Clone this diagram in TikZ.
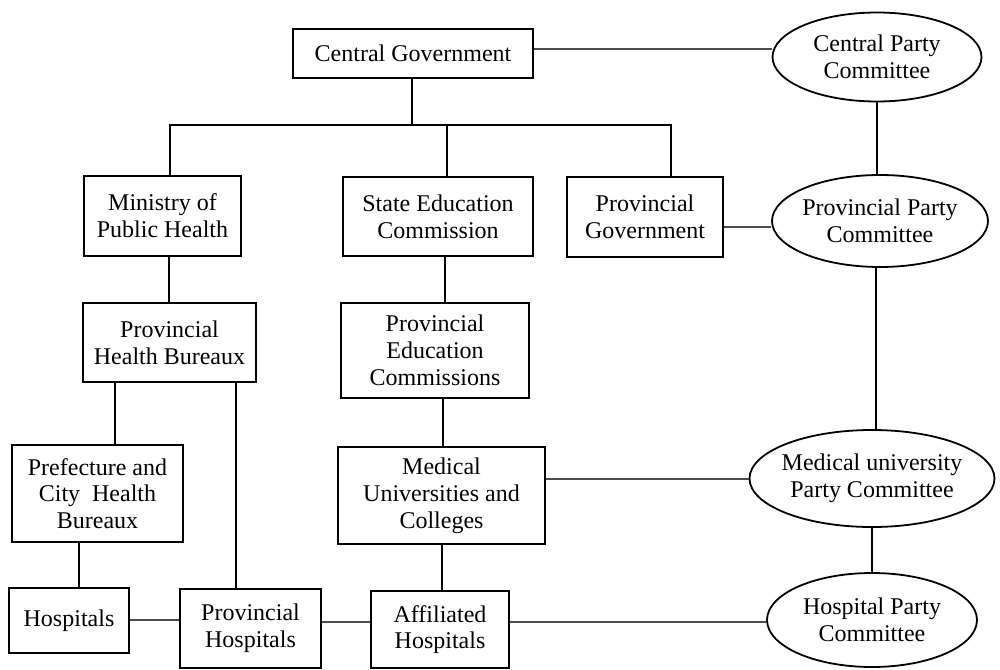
\documentclass[tikz,border=0pt]{standalone}
\usepackage{fontspec}
\setmainfont{Liberation Serif}
\usetikzlibrary{shapes.geometric}
\begin{document}
\begin{tikzpicture}[x=0.5pt,y=-0.5pt,
  every node/.style={font=\fontsize{12}{13.4}\selectfont, align=center, inner sep=0pt},
  box/.style={draw, line width=0.9pt, rectangle},
  party/.style={draw, line width=0.9pt, ellipse},
  ptext/.style={font=\fontsize{12}{13.4}\selectfont, align=center, inner sep=0pt},
  vline/.style={line width=0.8pt},
  hline/.style={line width=0.6pt, black!70}]
\useasboundingbox (0,0) rectangle (1000,669);
% boxes
\node[box, minimum width=120pt, minimum height=24.5pt] (cg) at (413,53.5) {Central Government};
\node[box, minimum width=78.5pt, minimum height=40pt] (mph) at (162.5,216) {Ministry of\\Public Health};
\node[box, minimum width=95pt, minimum height=39.5pt] (sec) at (438,216.5) {State Education\\Commission};
\node[box, minimum width=78pt, minimum height=40pt] (pg) at (645,217) {Provincial\\Government};
\node[box, minimum width=86.5pt, minimum height=39.5pt] (phb) at (169.5,342.5) {Provincial\\Health Bureaux};
\node[box, minimum width=94pt, minimum height=47.5pt] (pec) at (435,350.5) {Provincial\\Education\\Commissions};
\node[box, minimum width=85.5pt, minimum height=48.5pt] (pchb) at (97.5,493.5) {Prefecture and\\City\ \ Health\\Bureaux};
\node[box, minimum width=103.5pt, minimum height=48.5pt] (mu) at (441.5,495.5) {Medical\\Universities and\\Colleges};
\node[box, minimum width=60pt, minimum height=32.5pt] (hosp) at (69,620.5) {Hospitals};
\node[box, minimum width=70.5pt, minimum height=39.5pt] (phosp) at (250.5,628.5) {Provincial\\Hospitals};
\node[box, minimum width=69pt, minimum height=38.5pt] (ahosp) at (440,629.5) {Affiliated\\Hospitals};
% party ellipses
\node[party, minimum width=104.5pt, minimum height=44.5pt, label={[ptext]center:{Central Party\\Committee}}] (cpc) at (877,57) {};
\node[party, minimum width=108pt, minimum height=46pt, label={[ptext]center:{Provincial Party\\Committee}}] (ppc) at (880,221) {};
\node[party, minimum width=122.5pt, minimum height=48.5pt, label={[ptext]center:{Medical university\\Party Committee}}] (mupc) at (872,478.5) {};
\node[party, minimum width=105pt, minimum height=47pt, label={[ptext]center:{Hospital Party\\Committee}}] (hpc) at (872,620) {};
% helper coordinates
\coordinate (barC) at (412,125);
\coordinate (barL) at (170,125);
\coordinate (barM) at (447,125);
\coordinate (barR) at (671,125);
\coordinate (v169) at (169,0);
\coordinate (v115) at (115,0);
\coordinate (v236) at (236,0);
\coordinate (v79) at (79,0);
\coordinate (v445) at (445,0);
\coordinate (v443) at (443,0);
\coordinate (v442) at (442,0);
\coordinate (v877) at (877,0);
\coordinate (v876) at (876,0);
\coordinate (v872) at (872,0);
\coordinate (h49) at (0,49);
\coordinate (h227) at (0,227);
\coordinate (h479) at (0,479);
\coordinate (h620) at (0,620);
\coordinate (h622) at (0,622);
% tree connectors
\draw[vline] (cg.south -| barC) -- (barC);
\draw[vline] (mph.north -| barL) -- (barL) -- (barR) -- (pg.north -| barR);
\draw[vline] (sec.north -| barM) -- (barM);
\draw[vline] (mph.south -| v169) -- (phb.north -| v169);
\draw[vline] (phb.south -| v115) -- (pchb.north -| v115);
\draw[vline] (phb.south -| v236) -- (phosp.north -| v236);
\draw[vline] (pchb.south -| v79) -- (hosp.north -| v79);
\draw[vline] (sec.south -| v445) -- (pec.north -| v445);
\draw[vline] (pec.south -| v443) -- (mu.north -| v443);
\draw[vline] (mu.south -| v442) -- (ahosp.north -| v442);
\draw[vline] (cpc.south -| v877) -- (ppc.north -| v877);
\draw[vline] (ppc.south -| v876) -- (mupc.north -| v876);
\draw[vline] (mupc.south -| v872) -- (hpc.north -| v872);
% horizontal links
\draw[hline] (cg.east |- h49) -- (cpc.west |- h49);
\draw[hline] (pg.east |- h227) -- (ppc.west |- h227);
\draw[hline] (mu.east |- h479) -- (mupc.west |- h479);
\draw[hline] (hosp.east |- h620) -- (phosp.west |- h620);
\draw[hline] (phosp.east |- h622) -- (ahosp.west |- h622);
\draw[hline] (ahosp.east |- h622) -- (hpc.west |- h622);
\end{tikzpicture}
\end{document}
